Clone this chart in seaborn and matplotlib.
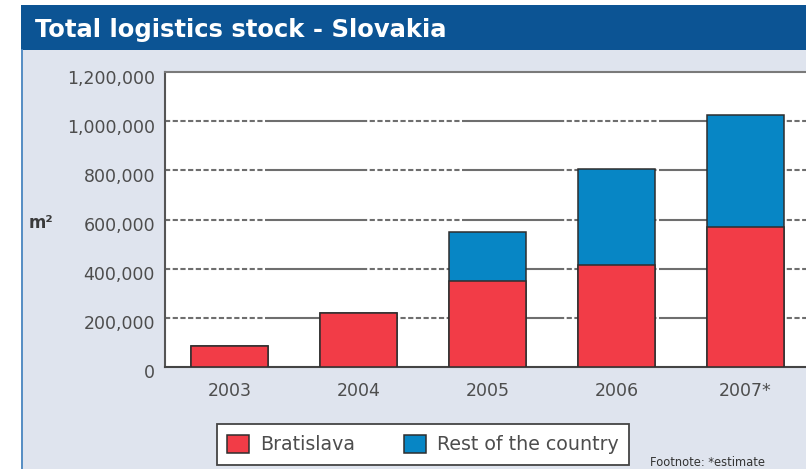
import matplotlib
matplotlib.use("Agg")
import matplotlib.pyplot as plt
import matplotlib.transforms as mtransforms
from matplotlib.patches import Rectangle, Patch
from matplotlib.lines import Line2D
import seaborn as sns
import pandas as pd

# Data (m2)
years = ["2003", "2004", "2005", "2006", "2007*"]
bratislava = [87000, 220000, 350000, 415000, 570000]
rest_of_country = [0, 0, 200000, 390000, 455000]
y_ticks = [0, 200000, 400000, 600000, 800000, 1000000, 1200000]

RED = "#f23c47"
BLUE = "#0786c5"
EDGE = "#2e2e2e"
PANEL = "#dfe4ee"
BAND = "#0c5494"
TEXT = "#4d4d4d"

plt.rcParams["font.family"] = ["DejaVu Sans"]
plt.rcParams["lines.scale_dashes"] = False

W, H = 806, 469
fig = plt.figure(figsize=(W / 100, H / 100), dpi=100)
fig.patch.set_facecolor("white")


def fx(px):
    return px / W


def fy(py):
    return 1 - py / H


# Background panel and title band (kept behind the axes)
fig.patches.append(Rectangle((fx(21), 0), 1 - fx(21), fy(50), transform=fig.transFigure,
                             facecolor=PANEL, edgecolor="none", zorder=-10))
fig.patches.append(Rectangle((fx(21), fy(50)), 1 - fx(21), 45 / H, transform=fig.transFigure,
                             facecolor=BAND, edgecolor="none", zorder=-10))
fig.lines.append(Line2D([fx(22), fx(22)], [0, fy(50)], transform=fig.transFigure,
                        color="#4a86c0", lw=1.3, zorder=-5))
fig.text(fx(35), fy(37.5), "Total logistics stock - Slovakia", color="white",
         fontsize=17.5, fontweight="bold", ha="left", va="baseline")

df = pd.DataFrame({
    "year": years,
    "Bratislava": bratislava,
    "Rest of the country": rest_of_country,
})
df["total"] = df["Bratislava"] + df["Rest of the country"]

ax = fig.add_axes([fx(165), fy(367), 645 / W, 295 / H])
ax.set_facecolor("white")

# Stacked bars: full totals in blue, Bratislava share drawn over them in red
sns.barplot(data=df, x="year", y="total", color=BLUE, saturation=1, width=0.59,
            edgecolor=EDGE, linewidth=1.1, ax=ax, zorder=2)
sns.barplot(data=df, x="year", y="Bratislava", color=RED, saturation=1, width=0.59,
            edgecolor=EDGE, linewidth=1.1, ax=ax, zorder=3)

ax.set_xlim(-0.5, 4.5)
ax.set_ylim(0, 1200000)
ax.set_yticks(y_ticks)
ax.set_yticklabels([f"{v:,}" for v in y_ticks])
ax.set_xlabel("")
ax.set_ylabel("")

# Gridlines: blocks of short dashes alternating with solid runs
dash_seq = [3.74, 1.8] * 13 + [69.8, 0.01]
for v in y_ticks[1:-1]:
    ax.axhline(v, color="#6e6e6e", lw=1.5, linestyle=(0, dash_seq), zorder=1)

for side in ["top", "left", "bottom", "right"]:
    ax.spines[side].set_linewidth(1.5)
ax.spines["top"].set_color("#7a7a7a")
ax.spines["left"].set_color("#555555")
ax.spines["bottom"].set_color("#444444")
ax.spines["right"].set_visible(False)

ax.tick_params(axis="y", length=0, pad=7.2, labelsize=12.5, labelcolor=TEXT)
ax.tick_params(axis="x", length=0, pad=10.5, labelsize=12.5, labelcolor=TEXT)
shift = mtransforms.ScaledTranslation(0, -0.045, fig.dpi_scale_trans)
for lab in ax.get_yticklabels():
    lab.set_transform(lab.get_transform() + shift)

fig.text(fx(29), fy(223), "m\u00b2", fontsize=12, fontweight="bold", color="#3a3a3a",
         ha="left", va="center")

handles = [Patch(facecolor=RED, edgecolor=EDGE, linewidth=1.1, label="Bratislava"),
           Patch(facecolor=BLUE, edgecolor=EDGE, linewidth=1.1, label="Rest of the country")]
leg = fig.legend(handles=handles, loc="center", bbox_to_anchor=(fx(423), fy(444.5)),
                 ncol=2, fontsize=13.7, frameon=True, fancybox=False, framealpha=1,
                 handlelength=1.15, handleheight=1.15, handletextpad=0.58,
                 columnspacing=2.6, borderpad=0.55, labelcolor=TEXT)
leg.get_frame().set_edgecolor("#444444")
leg.get_frame().set_linewidth(1.3)

fig.text(fx(650), fy(462), "Footnote: *estimate", fontsize=8.3, color="#333333",
         ha="left", va="center")

fig.savefig("out.png", dpi=100)
